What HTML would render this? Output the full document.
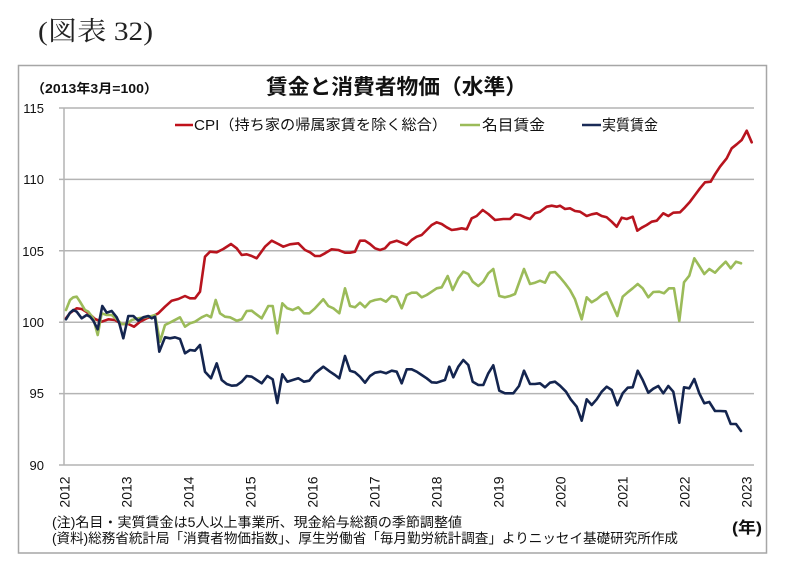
<!DOCTYPE html>
<html><head><meta charset="utf-8"><style>
html,body{margin:0;padding:0;background:#fff;}
svg{display:block;}
.s{font-family:"Liberation Sans","Noto Sans CJK JP",sans-serif;}
</style></head><body>
<svg width="787" height="574" viewBox="0 0 787 574" xmlns="http://www.w3.org/2000/svg">
<rect x="0" y="0" width="787" height="574" fill="#fff"/>
<text x="38" y="40" font-family="'Liberation Serif','Noto Serif CJK SC',serif" font-size="26" textLength="115" lengthAdjust="spacingAndGlyphs" fill="#222">(図表 32)</text>
<rect x="18.5" y="65.5" width="748" height="487.5" fill="none" stroke="#a6a6a6" stroke-width="1.5"/>
<text class="s" x="31" y="93" font-size="13" font-weight="bold" textLength="127" lengthAdjust="spacingAndGlyphs" fill="#111">（2013年3月=100）</text>
<text class="s" x="266" y="94" font-size="21" font-weight="bold" textLength="261" lengthAdjust="spacingAndGlyphs" fill="#111">賃金と消費者物価（水準）</text>
<!-- grid -->
<g stroke="#b4b4b4" stroke-width="1.5" fill="none">
<line x1="59" y1="108" x2="754" y2="108"/>
<line x1="59" y1="179.4" x2="754" y2="179.4"/>
<line x1="59" y1="250.8" x2="754" y2="250.8"/>
<line x1="59" y1="322.2" x2="754" y2="322.2"/>
<line x1="59" y1="393.6" x2="754" y2="393.6"/>
<line x1="59" y1="465" x2="754" y2="465"/>
<line x1="64" y1="108" x2="64" y2="465"/>
</g>
<g class="s" font-size="13" fill="#111" text-anchor="end">
<text x="44" y="113">115</text>
<text x="44" y="184">110</text>
<text x="44" y="256">105</text>
<text x="44" y="327">100</text>
<text x="44" y="398">95</text>
<text x="44" y="470">90</text>
</g>
<!-- legend -->
<rect x="193" y="110" width="470" height="26" fill="#fff"/>
<line x1="175" y1="125" x2="193" y2="125" stroke="#C0111B" stroke-width="2.5"/>
<text class="s" x="194" y="130" font-size="14.5" textLength="253" lengthAdjust="spacingAndGlyphs" fill="#111">CPI（持ち家の帰属家賃を除く総合）</text>
<line x1="460" y1="125" x2="480" y2="125" stroke="#9BBB59" stroke-width="2.5"/>
<text class="s" x="482" y="130" font-size="15" textLength="63" lengthAdjust="spacingAndGlyphs" fill="#111">名目賃金</text>
<line x1="582" y1="125" x2="601" y2="125" stroke="#1A2B57" stroke-width="2.5"/>
<text class="s" x="602" y="130" font-size="15" textLength="56" lengthAdjust="spacingAndGlyphs" fill="#111">実質賃金</text>
<!-- series -->
<g fill="none" stroke-width="2.6" stroke-linejoin="round" stroke-linecap="round">
<polyline stroke="#B8141E" points="66,318.3 70,313 76.7,308.3 81.7,309 88.3,313 95,319 101.7,321.7 108.3,319.3 115,320 121.7,324 128.3,324 134,326.7 140,321.7 146.7,318.3 153.3,316 158.3,313.3 165,306.7 171.7,300.7 178.3,299 185,296 190,298.3 195,298.3 200,291.7 205,256.7 210,251.7 216.7,252.3 223.3,249 231,244 236.7,248.3 241.7,255 246.7,254.3 251.7,256 256.7,258.3 265,246.7 271.7,240.7 278.3,244 283.3,246.7 290,244.3 298.3,243.3 305,250 310,252.3 315,256 320,256 325,253.3 331.7,249.3 338.3,250 345,252.7 350,252.7 355,251.7 360,240.7 365,240.7 370,244 375,248.3 380,250 385,248.3 390,242.7 396.7,240.7 401.7,242.7 406.7,245 411.7,240 416.7,236.7 421.7,235 426.7,230 431.7,225 436.7,222.3 441.7,224 446.7,227.3 451.7,230 456.7,229.3 461.7,228.3 466.7,229.3 471.7,218.3 476.7,216 482.7,210 488.3,214 495,220 503.3,219 510,219 515,214.3 520,215 525,217.3 530,219 535,213.3 540,211.7 546.7,206.7 551.7,205.7 556.7,206.7 560,205.7 565,209 570,208.3 575,211 580,211.7 586.7,216 591.7,214.3 596.7,213.3 601.7,216 606.7,217.3 611.7,221.7 616.7,226.7 621.7,217.7 626.7,219 632.7,216.7 637.3,230.7 641.7,227.7 646.7,225 651.7,221.7 656.7,220.7 663.3,213.3 668.3,216 673.3,212.7 680,212.3 685,207.3 690,201.7 695,195 700,188.3 705,182.3 710.7,181.7 715,174.3 720,166.7 726.7,158.3 731.7,148.3 736.7,144.3 741.7,140 746.7,130.7 751.7,142.3"/>
<polyline stroke="#9BBB59" points="66,310 70,300 73.3,297.3 76.7,296.7 80,301.7 85,310 88.3,311.7 93.3,318.3 97.7,335 101.7,313.3 106.7,315 111.7,315 116.7,319.3 121.7,324 126.7,324 131.7,320 138.3,318.3 145,317.3 151.7,316 155,315 160,341.7 165,325 171.7,321.7 180,317.3 185,326.7 190,323.3 195,321.7 201.7,317.3 206.7,315 211,317.3 215.7,300 220,313.3 225,316.7 230,317.3 236.7,320.7 241.7,319.3 246.7,311 251.7,310.7 255,313.3 261.7,318.3 268.3,306 272.7,306 277.3,333.3 282.3,303.3 287.3,308.3 292.7,310 298.3,307.3 304,313.3 309.3,313.3 315,308.3 323.3,299.3 328.3,306 333.3,308.3 339.3,313.3 345,288.3 350,306 355,307.3 360,302.7 365,307.3 370,301.7 375,300 380.7,299 386,301.7 391.7,296 396.7,297.3 401.7,308.3 406.7,295 411.7,292.7 416.7,292.7 421.7,297.3 426.7,295 431.7,291.7 436.7,288.3 441.7,287.3 447.7,276 452.7,290 458.3,278.3 463.3,271.7 468.3,274 472.7,281.7 478.3,286 483.3,281.7 488.3,273.3 493.3,269 499.3,296 505,297.3 510,296 515,294 524,269 530,284 535,282.7 540,280.7 545,282.7 550,272.7 555,272 560,277.3 565,283.3 570,290 575,299.3 581.7,319.3 586.7,297.3 591.7,302.3 596.7,299.3 601.7,295 606.7,292.3 611.7,303.3 617.3,316 622.7,296.7 627.7,292.3 632.7,288.3 637.7,284 642.7,288.3 648.3,297.3 653.3,292 659.3,291.7 664,293.3 669,288.3 674,288.3 679.3,321 684,282.3 689.3,275.7 694.3,258.3 699.3,266 704.3,274 709.3,269 715,272.7 720,267.3 725.7,261.7 730.7,268.3 736,261.7 741,263.3"/>
<polyline stroke="#14254F" points="66,319.3 70,312.7 73.3,310 76.7,311.7 81.7,318.3 86.7,315 90,316.7 93.3,320.7 97.7,329.3 102.3,306 106.7,312.7 111.7,311 116.7,317.3 119.3,323.3 123.3,338.3 128.3,316 133.3,316 138.3,320.7 143.3,317.3 148.3,316 151.7,318.3 155,316.7 159.3,351.7 165,337.3 170,338.3 175,337.3 180,339 185,353.3 190,350 195,350.7 200,345 205,371.7 211,378.3 216.7,363.3 221.7,380 226.7,384 231.7,385.7 236.7,385.3 241.7,381.7 246.7,376 251.7,376.7 256.7,380 261.7,383.3 267.3,376 272.7,379.3 277.3,403 282.3,374.3 287.3,381.7 292.7,380 298.3,378.3 304,381.7 309.3,380.7 315,373.3 323.3,366.7 330,371.7 335,375 339.3,378.3 345,356 350,370.7 355,372.3 360,376.7 365,382.7 370,376 375,372.7 380.7,371.7 386,373.3 391.7,370.7 396.7,371.7 401.7,383.3 406.7,369.3 411.7,369.3 416.7,371.7 421.7,375 426.7,378.3 431.7,382.3 436.7,382.7 441.7,381 445,380 449.3,366.7 453.3,377.3 458.3,366.7 463.3,360 468.3,365 472.7,381.7 478.3,385 483.3,385 488.3,373.3 493.3,365.3 499.3,390.7 505,393.3 513.3,393.3 519,386 524,370.7 530,384 535,384 540,383.3 545,387.3 550,382.7 555,381.7 560,385.7 566,391.7 570.7,399.3 576.7,406.7 581.7,420.7 586.7,399.3 591.7,405 596.7,399.3 601.7,391.7 606.7,386.7 611.7,390 617.3,405.3 622.7,393.3 627.7,387.7 632.7,387.3 637.7,370.7 642.7,380 648.3,392.7 653.3,388.7 658.3,386 663.3,393.3 668.3,386 673.3,391.7 679.3,422.7 684,387.3 689.3,388.3 694.3,379 699.3,393.3 704.3,403.3 709.3,402 715,411 720,411 725.7,411.3 730.7,424 736,424 741,431"/>
</g>
<!-- x labels -->
<g class="s" font-size="14" fill="#111" text-anchor="middle">
<text transform="translate(69.7,492) rotate(-90)">2012</text>
<text transform="translate(131.7,492) rotate(-90)">2013</text>
<text transform="translate(193.7,492) rotate(-90)">2014</text>
<text transform="translate(255.7,492) rotate(-90)">2015</text>
<text transform="translate(317.7,492) rotate(-90)">2016</text>
<text transform="translate(379.7,492) rotate(-90)">2017</text>
<text transform="translate(441.7,492) rotate(-90)">2018</text>
<text transform="translate(503.7,492) rotate(-90)">2019</text>
<text transform="translate(565.7,492) rotate(-90)">2020</text>
<text transform="translate(627.7,492) rotate(-90)">2021</text>
<text transform="translate(689.7,492) rotate(-90)">2022</text>
<text transform="translate(751.7,492) rotate(-90)">2023</text>
</g>
<text class="s" x="732" y="533" font-size="16" font-weight="bold" textLength="30" lengthAdjust="spacingAndGlyphs" fill="#111">(年)</text>
<text class="s" x="52" y="527" font-size="13.5" textLength="410" lengthAdjust="spacingAndGlyphs" fill="#111">(注)名目・実質賃金は5人以上事業所、現金給与総額の季節調整値</text>
<text class="s" x="52" y="543" font-size="13.5" textLength="626" lengthAdjust="spacingAndGlyphs" fill="#111">(資料)総務省統計局「消費者物価指数」、厚生労働省「毎月勤労統計調査」よりニッセイ基礎研究所作成</text>
</svg>
</body></html>
